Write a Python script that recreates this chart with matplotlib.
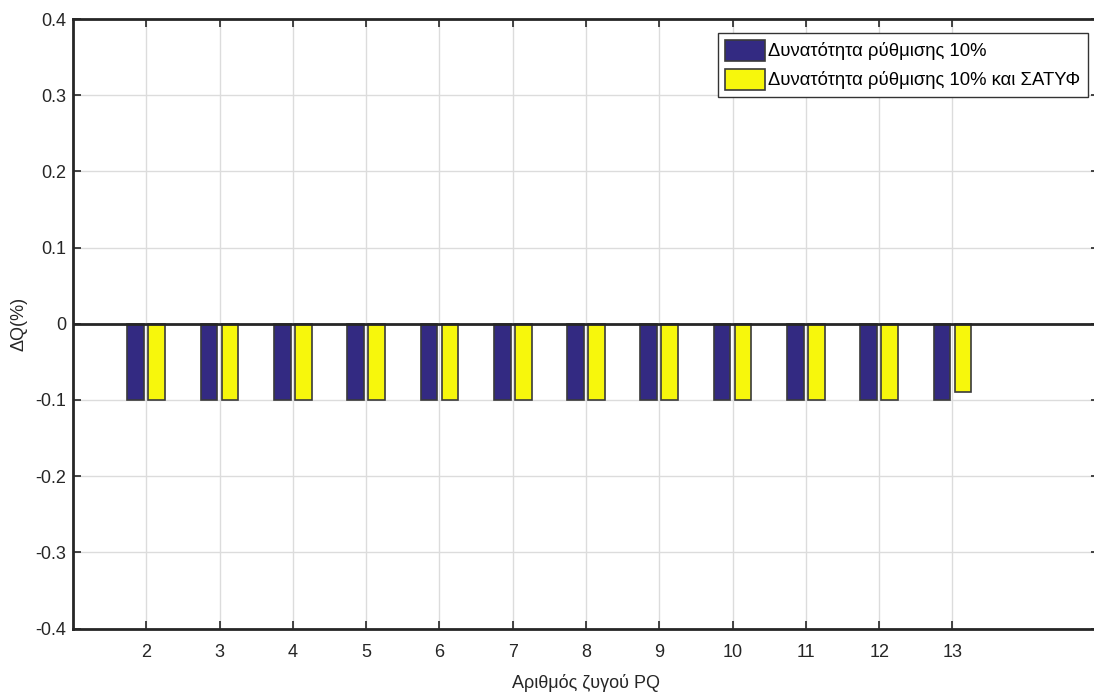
import matplotlib.pyplot as plt
import numpy as np

plt.rcParams['font.family'] = ['Liberation Sans', 'DejaVu Sans']

# PQ bus numbers and reactive power deviation (%)
buses = [2, 3, 4, 5, 6, 7, 8, 9, 10, 11, 12, 13]
dq_reg10 = [-0.1, -0.1, -0.1, -0.1, -0.1, -0.1, -0.1, -0.1, -0.1, -0.1, -0.1, -0.1]
dq_reg10_satyf = [-0.1, -0.1, -0.1, -0.1, -0.1, -0.1, -0.1, -0.1, -0.1, -0.1, -0.1, -0.09]
labels = ['Δυνατότητα ρύθμισης 10%', 'Δυνατότητα ρύθμισης 10% και ΣΑΤΥΦ']
yticks = [-0.4, -0.3, -0.2, -0.1, 0, 0.1, 0.2, 0.3, 0.4]
ytick_labels = ['-0.4', '-0.3', '-0.2', '-0.1', '0', '0.1', '0.2', '0.3', '0.4']

W, H = 1094, 698
fig = plt.figure(figsize=(W / 100, H / 100), dpi=100)
# right edge sits just outside the canvas
ax = fig.add_axes([73 / W, 1 - 628.5 / H, (1099 - 73) / W, (628.5 - 19) / H])

group_w = 2 / 3.5
bar_w = 0.8 * group_w / 2
off = group_w / 4
x = np.array(buses)
txt = '#262626'
edge = '#3a3a3a'

ax.bar(x - off, dq_reg10, bar_w, color='#332a82', edgecolor=edge, linewidth=1.2,
       label=labels[0], zorder=3)
ax.bar(x + off, dq_reg10_satyf, bar_w, color='#f7f70c', edgecolor=edge, linewidth=1.2,
       label=labels[1], zorder=3)
ax.axhline(0, color='#262626', linewidth=2, zorder=4)

ax.set_xlim(1, 15)
ax.set_ylim(-0.4, 0.4)
ax.set_xticks(buses)
ax.set_xticklabels([str(b) for b in buses])
ax.set_yticks(yticks)
ax.set_yticklabels(ytick_labels)
ax.grid(True, color='#dcdcdc', linewidth=1, zorder=0)
ax.set_axisbelow(True)
ax.tick_params(direction='in', length=6, width=1.2, colors=txt, labelsize=13,
               top=True, right=True)
ax.tick_params(axis='x', pad=11)
ax.tick_params(axis='y', pad=5)
for s in ax.spines.values():
    s.set_linewidth(2)
    s.set_color(txt)

ax.set_xlabel('Αριθμός ζυγού PQ', fontsize=13, color=txt, labelpad=9.5)
ax.set_ylabel('ΔQ(%)', fontsize=13, color=txt)
ax.yaxis.set_label_coords((28 - 73) / (1099 - 73), 0.5)

leg = ax.legend(loc='upper right', bbox_to_anchor=((1088 - 73) / (1099 - 73), (628.5 - 32.5) / (628.5 - 19)),
                fontsize=13.3, fancybox=False, framealpha=1, edgecolor='#333333',
                handlelength=2.15, handleheight=1.35, handletextpad=0.2,
                borderpad=0.4, labelspacing=0.45, borderaxespad=0)
leg.get_frame().set_linewidth(1)

fig.savefig('out.png', dpi=100)
